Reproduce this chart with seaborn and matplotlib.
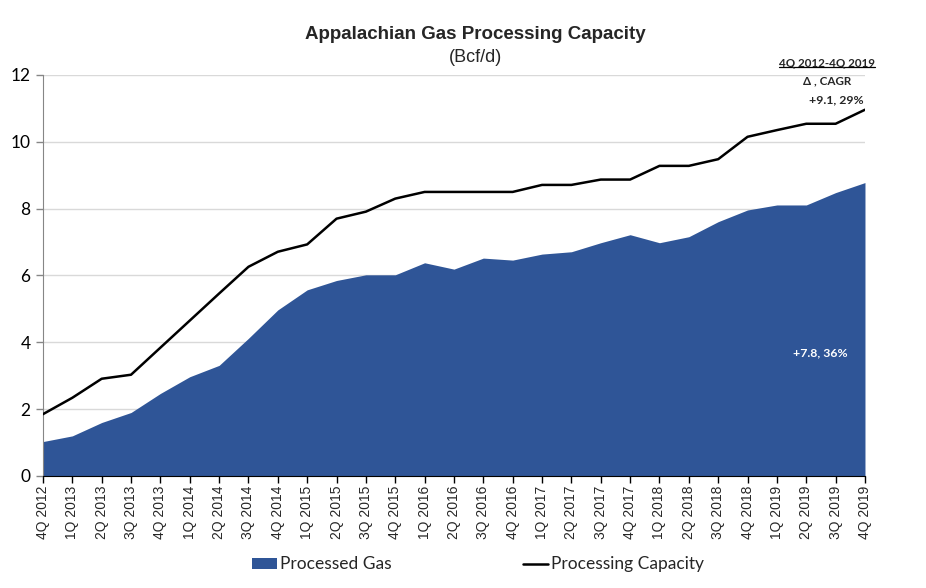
import pandas as pd
import numpy as np
import seaborn as sns
import matplotlib
matplotlib.use('Agg')
import matplotlib.pyplot as plt
from matplotlib.patches import Patch
from matplotlib.lines import Line2D

trimestres = ['4Q 2012', '1Q 2013', '2Q 2013', '3Q 2013', '4Q 2013', '1Q 2014', '2Q 2014',
              '3Q 2014', '4Q 2014', '1Q 2015', '2Q 2015', '3Q 2015', '4Q 2015', '1Q 2016',
              '2Q 2016', '3Q 2016', '4Q 2016', '1Q 2017', '2Q 2017', '3Q 2017', '4Q 2017',
              '1Q 2018', '2Q 2018', '3Q 2018', '4Q 2018', '1Q 2019', '2Q 2019', '3Q 2019',
              '4Q 2019']
gas_procesado = [1.03, 1.2, 1.6, 1.9, 2.47, 2.97, 3.31, 4.12, 4.97, 5.57, 5.85, 6.02, 6.02,
                 6.38, 6.19, 6.52, 6.46, 6.64, 6.71, 6.98, 7.22, 6.98, 7.16, 7.61, 7.96,
                 8.11, 8.11, 8.48, 8.78]
capacidad = [1.85, 2.34, 2.91, 3.03, 3.84, 4.65, 5.46, 6.26, 6.71, 6.93, 7.70, 7.91, 8.30,
             8.5, 8.5, 8.5, 8.5, 8.71, 8.71, 8.87, 8.87, 9.28, 9.28, 9.48, 10.15, 10.35,
             10.54, 10.54, 10.96]
y_ticks = [0, 2, 4, 6, 8, 10, 12]

azul = '#2F5597'

datos = pd.DataFrame({'x': np.arange(len(trimestres)), 'trimestre': trimestres,
                      'procesado': gas_procesado, 'capacidad': capacidad})

sns.set_style('white')
plt.rcParams['font.family'] = ['Lato', 'DejaVu Sans']

fig = plt.figure(figsize=(9.26, 5.88), dpi=100)
ax = fig.add_axes([0.0464, 0.1905, 0.8877, 0.682])

# area de gas procesado
ax.fill_between(datos['x'], 0, datos['procesado'], color=azul, linewidth=0, zorder=2)
# linea de capacidad
sns.lineplot(data=datos, x='x', y='capacidad', color='black', linewidth=1.8, ax=ax, zorder=3)

ax.set_xlim(0, len(trimestres) - 1)
ax.set_ylim(0, 12)
ax.set_yticks(y_ticks)
ax.set_yticklabels([str(v) for v in y_ticks], fontsize=12.5, color='black')
ax.set_xticks(datos['x'])
ax.set_xticklabels(trimestres, rotation=90, fontsize=10, family='Liberation Sans')
ax.set_xlabel('')
ax.set_ylabel('')
ax.yaxis.grid(True, color='#D9D9D9', linewidth=1, zorder=0)
ax.set_axisbelow(True)
ax.tick_params(axis='x', direction='out', length=5, width=1, color='black', pad=2, bottom=True)
ax.tick_params(axis='y', direction='out', length=5, width=1, color='#868686', pad=4, left=True)
for lado in ['top', 'right']:
    ax.spines[lado].set_visible(False)
ax.spines['left'].set_color('#868686')
ax.spines['bottom'].set_color('black')
ax.spines['bottom'].set_zorder(4)

# titulos
fig.text(0.513, 0.942, 'Appalachian Gas Processing Capacity', ha='center', va='center',
         fontsize=13.5, fontweight='bold', family='Liberation Sans')
fig.text(0.513, 0.902, '(Bcf/d)', ha='center', va='center', fontsize=13, family='Liberation Sans')

# anotaciones
t1 = fig.text(0.893, 0.893, '4Q 2012-4Q 2019', ha='center', va='center', fontsize=8.4,
              fontweight='bold')
fig.text(0.893, 0.862, '\u0394 , CAGR', ha='center', va='center', fontsize=8.4, fontweight='bold',
         family=['Lato', 'DejaVu Sans'])
fig.text(0.933, 0.83, '+9.1, 29%', ha='right', va='center', fontsize=8.8, fontweight='bold')
fig.text(0.886, 0.4, '+7.8, 36%', ha='center', va='center', fontsize=8.8, fontweight='bold',
         color='white')

fig.canvas.draw()
caja = t1.get_window_extent().transformed(fig.transFigure.inverted())
fig.add_artist(Line2D([caja.x0, caja.x1], [caja.y0 + 0.003, caja.y0 + 0.003],
                      color='black', linewidth=0.9, transform=fig.transFigure))

# leyenda
manejadores = [Patch(facecolor=azul, edgecolor='none', label='Processed Gas'),
               Line2D([0], [0], color='black', linewidth=1.8, label='Processing Capacity')]
fig.legend(handles=manejadores, loc='center', bbox_to_anchor=(0.516, 0.04), ncol=2,
           frameon=False, fontsize=12.5, columnspacing=7.6, handlelength=1.45, handletextpad=0.15,
           handleheight=0.6)

plt.savefig('out.png', dpi=100)
